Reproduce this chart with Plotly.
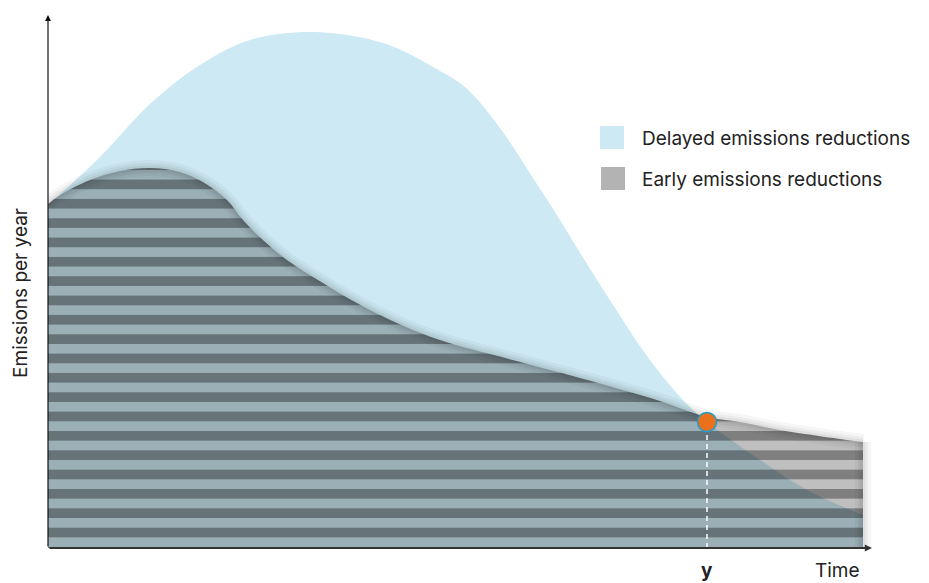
import plotly.graph_objects as go

# ---- data (arbitrary units: time, emissions per year) ----
delayed_t = [0, 52, 102, 152, 202, 265, 335, 385, 418, 452, 485, 512, 539, 569, 599, 635, 659, 712, 759, 815]
delayed_e = [343, 391, 444, 483, 508, 516, 505, 481, 460, 420, 370, 328, 284, 237, 192, 148, 126, 88, 58, 33]

early_t = [0, 12, 42, 72, 102, 132, 155, 179, 195, 215, 239, 275, 309, 349, 392, 465, 532, 609, 659, 692, 732, 792, 815]
early_e = [344, 353, 368, 377, 380, 376, 366, 348, 328, 308, 288, 265, 245, 225, 208, 188, 170, 148, 131, 126, 118, 109, 106]

cross_t = 659
cross_e = 126

legend_labels = ["Delayed emissions reductions", "Early emissions reductions"]
axis_labels = {"x": "Time", "y": "Emissions per year", "mark": "y"}

FONT = "Inter, Liberation Sans, Arial, sans-serif"
BLUE = "#cde9f3"
GREY = "#b3b3b4"
TXT = dict(size=19, color="#222", family=FONT)

fig = go.Figure()

# Delayed (blue) area
fig.add_trace(go.Scatter(
    x=delayed_t, y=delayed_e, mode="lines", fill="tozeroy",
    fillcolor=BLUE, line=dict(width=0, shape="spline", color=BLUE),
    hoverinfo="skip", showlegend=False))

# Early (striped) area
fig.add_trace(go.Scatter(
    x=early_t, y=early_e, mode="lines", fill="tozeroy",
    fillcolor="rgba(0,0,0,0.25)",
    fillpattern=dict(shape="-", size=19.34, solidity=0.5,
                     fgcolor="rgba(0,0,0,0.333)", bgcolor="rgba(0,0,0,0.25)",
                     fgopacity=1, fillmode="replace"),
    line=dict(width=0, shape="spline", color="rgba(0,0,0,0)"),
    hoverinfo="skip", showlegend=False))

# soft shadow along the early curve edge
for w, a in [(16, 0.035), (10, 0.045), (5, 0.05)]:
    fig.add_trace(go.Scatter(
        x=early_t, y=early_e, mode="lines",
        line=dict(width=w, shape="spline", color=f"rgba(0,0,0,{a})"),
        hoverinfo="skip", showlegend=False))
    fig.add_trace(go.Scatter(
        x=[early_t[-1], early_t[-1]], y=[early_e[-1], 0], mode="lines",
        line=dict(width=w, color=f"rgba(0,0,0,{a})"),
        hoverinfo="skip", showlegend=False))

# dashed drop line and crossover marker
fig.add_trace(go.Scatter(
    x=[cross_t, cross_t], y=[0, cross_e], mode="lines",
    line=dict(color="white", width=1.5, dash="5px,4px"),
    hoverinfo="skip", showlegend=False))
fig.add_trace(go.Scatter(
    x=[cross_t], y=[cross_e], mode="markers",
    marker=dict(size=19, color="#e9711c", line=dict(color="#1e9dd0", width=1.5)),
    hoverinfo="skip", showlegend=False))

annotations = [
    # axes arrows
    dict(x=0, y=533, ax=0, ay=0, xref="x", yref="y", axref="x", ayref="y",
         text="", showarrow=True, arrowhead=2, arrowsize=1, arrowwidth=1.2,
         arrowcolor="#111", standoff=0, startstandoff=0),
    dict(x=824, y=0, ax=0, ay=0, xref="x", yref="y", axref="x", ayref="y",
         text="", showarrow=True, arrowhead=2, arrowsize=0.8, arrowwidth=1.8,
         arrowcolor="#333", standoff=0, startstandoff=0),
    # axis labels (paper coordinates, outside the plotting area)
    dict(x=-0.0325, y=0.483, xref="paper", yref="paper", text=axis_labels["y"],
         textangle=-90, showarrow=False, xanchor="center", yanchor="middle", font=TXT),
    dict(x=0.9495, y=-0.0417, xref="paper", yref="paper", text=axis_labels["x"],
         showarrow=False, xanchor="center", yanchor="middle", font=TXT),
    dict(x=cross_t, y=-0.0417, xref="x", yref="paper", text="<b>" + axis_labels["mark"] + "</b>",
         showarrow=False, xanchor="center", yanchor="middle", font=TXT),
    # legend text
    dict(x=592, y=410, xref="x", yref="y", text=legend_labels[0], showarrow=False,
         xanchor="left", yanchor="middle", font=TXT),
    dict(x=592, y=369, xref="x", yref="y", text=legend_labels[1], showarrow=False,
         xanchor="left", yanchor="middle", font=TXT),
]

shapes = [
    dict(type="rect", xref="x", yref="y", x0=552, x1=576, y0=399, y1=422,
         fillcolor=BLUE, line=dict(width=0)),
    dict(type="rect", xref="x", yref="y", x0=553, x1=577, y0=358, y1=381,
         fillcolor=GREY, line=dict(width=0)),
]

# the page body has an 8px margin, so the figure is 8px smaller and margins shifted
fig.update_layout(
    width=921, height=575,
    margin=dict(l=40, r=49, t=12, b=35),
    paper_bgcolor="white", plot_bgcolor="white",
    xaxis=dict(range=[0, 832], visible=False, fixedrange=True),
    yaxis=dict(range=[0, 528], visible=False, fixedrange=True),
    annotations=annotations, shapes=shapes,
    showlegend=False,
    font=dict(family=FONT),
)

fig.write_html("out.html")
